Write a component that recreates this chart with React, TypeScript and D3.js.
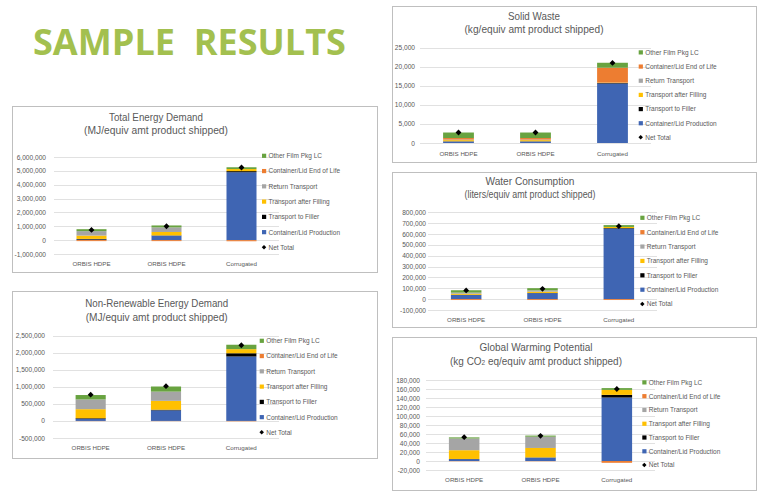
import React, { useRef, useEffect } from 'react';
import * as d3 from 'd3';

// categories and series shared by all five charts
const categories = ['ORBIS HDPE', 'ORBIS HDPE', 'Corrugated'];
const seriesNames = [
  'Container/Lid Production',
  'Transport to Filler',
  'Transport after Filling',
  'Return Transport',
  'Container/Lid End of Life',
  'Other Film Pkg LC',
];
const seriesColors = ['#3F65B3', '#000000', '#FFC000', '#A5A5A5', '#ED7D31', '#68A340'];

// Total Energy Demand (MJ)
const tedProduction = [40000, 320000, 4900000];
const tedToFiller = [50000, 20000, 80000];
const tedAfterFilling = [240000, 250000, 150000];
const tedReturn = [320000, 330000, 0];
const tedEndOfLife = [-70000, -70000, -80000];
const tedOtherFilm = [140000, 140000, 130000];
const tedNetTotal = [740000, 1000000, 5240000];
const tedTicks = [-1000000, 0, 1000000, 2000000, 3000000, 4000000, 5000000, 6000000];

// Non-Renewable Energy Demand (MJ)
const nreProduction = [60000, 310000, 1890000];
const nreToFiller = [20000, 20000, 95000];
const nreAfterFilling = [265000, 260000, 120000];
const nreReturn = [285000, 270000, 0];
const nreEndOfLife = [-5000, -5000, -10000];
const nreOtherFilm = [130000, 150000, 130000];
const nreNetTotal = [770000, 1020000, 2220000];
const nreTicks = [-500000, 0, 500000, 1000000, 1500000, 2000000, 2500000];

// Solid Waste (kg)
const swProduction = [400, 400, 15600];
const swToFiller = [50, 50, 150];
const swAfterFilling = [300, 300, 100];
const swReturn = [150, 150, 0];
const swEndOfLife = [400, 400, 3900];
const swOtherFilm = [1450, 1450, 1300];
const swNetTotal = [2750, 2750, 21000];
const swTicks = [0, 5000, 10000, 15000, 20000, 25000];

// Water Consumption (liters)
const wcProduction = [38000, 55000, 650000];
const wcToFiller = [2000, 2000, 5000];
const wcAfterFilling = [10000, 12000, 10000];
const wcReturn = [10000, 12000, 0];
const wcEndOfLife = [-8000, -8000, -8000];
const wcOtherFilm = [22000, 20000, 17000];
const wcNetTotal = [80000, 95000, 672000];
const wcTicks = [-100000, 0, 100000, 200000, 300000, 400000, 500000, 600000, 700000, 800000];

// Global Warming Potential (kg CO2 eq)
const gwpProduction = [4000, 7500, 141000];
const gwpToFiller = [500, 500, 6000];
const gwpAfterFilling = [19500, 21000, 11000];
const gwpReturn = [26000, 25000, 0];
const gwpEndOfLife = [-500, -500, -4000];
const gwpOtherFilm = [2500, 2500, 4000];
const gwpNetTotal = [53000, 56000, 160000];
const gwpTicks = [-20000, 0, 20000, 40000, 60000, 80000, 100000, 120000, 140000, 160000, 180000];

interface ChartSpec {
  title1: string;
  title2: string;
  series: number[][];
  net: number[];
  ticks: number[];
  box: { x: number; y: number; w: number; h: number };
  titleX: number;
  titleY: [number, number];
  titleW: [number, number];
  plotX: [number, number];
  plotY: [number, number]; // y of lowest tick, y of highest tick
  labelRight: number;
  catY: number;
  legendX: number;
  legendY: number;
  legendStep: number;
  co2?: boolean;
}

const charts: ChartSpec[] = [
  {
    title1: 'Total Energy Demand', title2: '(MJ/equiv amt product shipped)',
    series: [tedProduction, tedToFiller, tedAfterFilling, tedReturn, tedEndOfLife, tedOtherFilm],
    net: tedNetTotal, ticks: tedTicks,
    box: { x: 12, y: 106, w: 365, h: 166 },
    titleX: 156, titleY: [116.7, 130], titleW: [94, 144],
    plotX: [54, 279], plotY: [254, 157], labelRight: 46, catY: 263.7,
    legendX: 264, legendY: 155.7, legendStep: 15.27,
  },
  {
    title1: 'Non-Renewable Energy Demand', title2: '(MJ/equiv amt product shipped)',
    series: [nreProduction, nreToFiller, nreAfterFilling, nreReturn, nreEndOfLife, nreOtherFilm],
    net: nreNetTotal, ticks: nreTicks,
    box: { x: 12, y: 291, w: 365, h: 167 },
    titleX: 156.7, titleY: [303.3, 316.7], titleW: [143, 142],
    plotX: [53, 279], plotY: [438, 335.7], labelRight: 45, catY: 447.3,
    legendX: 261.7, legendY: 340.7, legendStep: 15.27,
  },
  {
    title1: 'Solid Waste', title2: '(kg/equiv amt product shipped)',
    series: [swProduction, swToFiller, swAfterFilling, swReturn, swEndOfLife, swOtherFilm],
    net: swNetTotal, ticks: swTicks,
    box: { x: 392, y: 6, w: 364, h: 156 },
    titleX: 534, titleY: [15.7, 29], titleW: [52, 139],
    plotX: [420, 651], plotY: [143, 47.7], labelRight: 415, catY: 153.3,
    legendX: 640.7, legendY: 52.3, legendStep: 14.17,
  },
  {
    title1: 'Water Consumption', title2: '(liters/equiv amt product shipped)',
    series: [wcProduction, wcToFiller, wcAfterFilling, wcReturn, wcEndOfLife, wcOtherFilm],
    net: wcNetTotal, ticks: wcTicks,
    box: { x: 392, y: 172, w: 364, h: 155 },
    titleX: 530, titleY: [180.7, 194], titleW: [89, 131],
    plotX: [428, 657], plotY: [310, 212.3], labelRight: 426, catY: 319,
    legendX: 642.3, legendY: 217.7, legendStep: 14.38,
  },
  {
    title1: 'Global Warming Potential', title2: '',
    series: [gwpProduction, gwpToFiller, gwpAfterFilling, gwpReturn, gwpEndOfLife, gwpOtherFilm],
    net: gwpNetTotal, ticks: gwpTicks,
    box: { x: 392, y: 337, w: 364, h: 153 },
    titleX: 536, titleY: [346.7, 360.7], titleW: [113, 172],
    plotX: [426, 655], plotY: [470, 380], labelRight: 420, catY: 479.3,
    legendX: 644.3, legendY: 382.3, legendStep: 13.78, co2: true,
  },
];

const fmt = d3.formatLocale({ decimal: '.', thousands: ',', grouping: [3], currency: ['$', ''], minus: '-' }).format(',');
const font = "'Liberation Sans', Arial, sans-serif";
const textColor = '#595959';

function drawChart(svg: d3.Selection<SVGSVGElement, unknown, null, undefined>, c: ChartSpec) {
  const g = svg.append('g');

  // chart frame
  g.append('rect')
    .attr('x', c.box.x + 0.5).attr('y', c.box.y + 0.5)
    .attr('width', c.box.w).attr('height', c.box.h)
    .attr('fill', 'white').attr('stroke', '#BFBFBF').attr('stroke-width', 1);

  // two-line title
  g.append('text')
    .attr('x', c.titleX).attr('y', c.titleY[0])
    .attr('text-anchor', 'middle').attr('dominant-baseline', 'central')
    .attr('font-family', font).attr('font-size', 11.5).attr('fill', textColor)
    .attr('textLength', c.titleW[0]).attr('lengthAdjust', 'spacingAndGlyphs')
    .text(c.title1);
  if (c.co2) {
    // subscript line: squeeze horizontally with a transform instead of textLength
    const t2 = g.append('text')
      .attr('transform', `translate(${c.titleX},${c.titleY[1]}) scale(0.867,1)`)
      .attr('text-anchor', 'middle').attr('dominant-baseline', 'central')
      .attr('font-family', font).attr('font-size', 11.5).attr('fill', textColor);
    t2.append('tspan').text('(kg CO');
    t2.append('tspan').attr('font-size', 7.5).attr('baseline-shift', '-25%').text('2');
    t2.append('tspan').text(' eq/equiv amt product shipped)');
  } else {
    g.append('text')
      .attr('x', c.titleX).attr('y', c.titleY[1])
      .attr('text-anchor', 'middle').attr('dominant-baseline', 'central')
      .attr('font-family', font).attr('font-size', 11.5).attr('fill', textColor)
      .attr('textLength', c.titleW[1]).attr('lengthAdjust', 'spacingAndGlyphs')
      .text(c.title2);
  }

  const y = d3.scaleLinear()
    .domain([c.ticks[0], c.ticks[c.ticks.length - 1]])
    .range(c.plotY);
  const x = d3.scaleBand<number>()
    .domain(d3.range(categories.length))
    .range(c.plotX)
    .paddingInner(0.6)
    .paddingOuter(0.3);

  // gridlines
  g.selectAll('.grid')
    .data(c.ticks)
    .enter()
    .append('line')
    .attr('x1', c.plotX[0]).attr('x2', c.plotX[1])
    .attr('y1', d => Math.round(y(d)) + 0.5).attr('y2', d => Math.round(y(d)) + 0.5)
    .attr('stroke', '#D9D9D9').attr('stroke-width', 0.8);

  // y tick labels
  g.selectAll('.ylab')
    .data(c.ticks)
    .enter()
    .append('text')
    .attr('x', c.labelRight).attr('y', d => y(d))
    .attr('text-anchor', 'end').attr('dominant-baseline', 'central')
    .attr('font-family', font).attr('font-size', 6.6).attr('fill', textColor)
    .text(d => fmt(d));

  // stacked bars
  const rows = categories.map((_, i) => {
    const r: Record<string, number> = { idx: i };
    seriesNames.forEach((s, k) => { r[s] = c.series[k][i]; });
    return r;
  });
  const stacked = d3.stack<Record<string, number>>()
    .keys(seriesNames)
    .offset(d3.stackOffsetDiverging)(rows);

  stacked.forEach((layer, k) => {
    g.selectAll(`.bar${k}`)
      .data(layer)
      .enter()
      .append('rect')
      .attr('x', (d, i) => x(i) as number)
      .attr('width', x.bandwidth())
      .attr('y', d => y(Math.max(d[0], d[1])))
      .attr('height', d => Math.abs(y(d[0]) - y(d[1])))
      .attr('fill', seriesColors[k]);
  });

  // net total markers
  const diamond = d3.symbol().type(d3.symbolSquare).size(17)();
  g.selectAll('.net')
    .data(c.net)
    .enter()
    .append('path')
    .attr('d', diamond)
    .attr('transform', (d, i) => `translate(${(x(i) as number) + x.bandwidth() / 2},${y(d)}) rotate(45)`)
    .attr('fill', 'black');

  // category labels
  g.selectAll('.cat')
    .data(categories)
    .enter()
    .append('text')
    .attr('x', (d, i) => (x(i) as number) + x.bandwidth() / 2)
    .attr('y', c.catY)
    .attr('text-anchor', 'middle').attr('dominant-baseline', 'central')
    .attr('font-family', font).attr('font-size', 6.2).attr('fill', textColor)
    .text(d => d);

  // legend (reverse stack order, then Net Total)
  const legendItems = seriesNames.map((s, k) => ({ name: s, color: seriesColors[k] })).reverse();
  legendItems.forEach((item, i) => {
    const ly = c.legendY + i * c.legendStep;
    g.append('rect')
      .attr('x', c.legendX - 2).attr('y', ly - 2)
      .attr('width', 4.2).attr('height', 4.2)
      .attr('fill', item.color);
    g.append('text')
      .attr('x', c.legendX + 4.5).attr('y', ly)
      .attr('dominant-baseline', 'central')
      .attr('font-family', font).attr('font-size', 6.5).attr('fill', textColor)
      .text(item.name);
  });
  const ny = c.legendY + legendItems.length * c.legendStep;
  g.append('path')
    .attr('d', d3.symbol().type(d3.symbolSquare).size(10)())
    .attr('transform', `translate(${c.legendX},${ny}) rotate(45)`)
    .attr('fill', 'black');
  g.append('text')
    .attr('x', c.legendX + 4.5).attr('y', ny)
    .attr('dominant-baseline', 'central')
    .attr('font-family', font).attr('font-size', 6.5).attr('fill', textColor)
    .text('Net Total');
}

const App: React.FC = () => {
  const width = 761;
  const height = 494;
  const svgRef = useRef<SVGSVGElement | null>(null);

  useEffect(() => {
    if (!svgRef.current) return;
    const svg = d3.select(svgRef.current);
    svg.selectAll('*').remove();

    svg.append('rect').attr('width', width).attr('height', height).attr('fill', 'white');

    // big heading
    svg.append('text')
      .attr('x', 33).attr('y', 55)
      .attr('font-family', "'Open Sans', 'Noto Sans', sans-serif")
      .attr('font-weight', 'bold').attr('font-size', 35)
      .attr('fill', '#A3C04F')
      .attr('textLength', 313).attr('lengthAdjust', 'spacingAndGlyphs')
      .style('white-space', 'pre')
      .text('SAMPLE  RESULTS');

    charts.forEach(c => drawChart(svg, c));
  }, []);

  return (
    <svg
      ref={svgRef}
      width={width}
      height={height}
      style={{ position: 'absolute', left: 0, top: 0 }}
    />
  );
};

export default App;
